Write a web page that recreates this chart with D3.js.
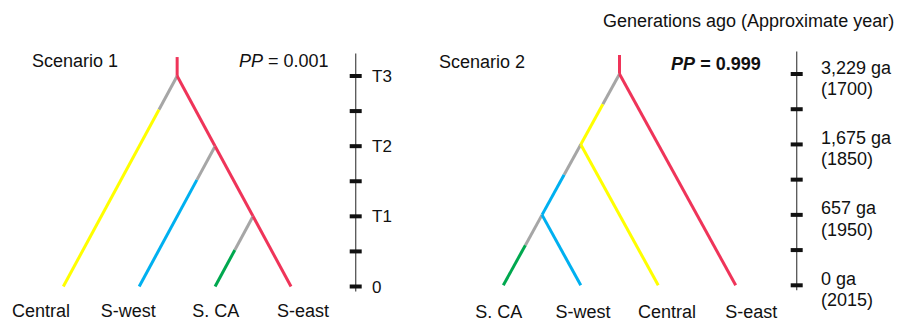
<!DOCTYPE html>
<head>
  <meta charset="utf-8">
  <script src="https://d3js.org/d3.v7.min.js"></script>
  <style>
    body { margin: 0; background: #fff; }
    text { font-family: "Liberation Sans", Arial, sans-serif; font-size: 18px; fill: #111; }
    .tname { font-size: 17px; }
    .branch { fill: none; stroke-width: 3px; stroke-linecap: butt; }
    .axis-line { stroke: #555; stroke-width: 1.3px; }
    .tick-mark { stroke: #111; stroke-width: 4px; }
  </style>
</head>
<body>
  <svg width="899" height="321"></svg>
  <script>
    // populations and their colours
    var pops = ["Central", "S-west", "S. CA", "S-east"];
    var popColours = ["#ffff00", "#00b0f0", "#00a84f", "#ef3459"];

    // scenario 1: tips left to right, and the tree as parent links (t = time level)
    var tips1 = ["Central", "S-west", "S. CA", "S-east"];
    var tree1 = [
      { id: "root", parent: "", t: 3, pop: "S-east", grey: false },
      { id: "Central", parent: "root", t: 0, pop: "Central", grey: true },
      { id: "n2", parent: "root", t: 2, pop: "S-east", grey: false },
      { id: "S-west", parent: "n2", t: 0, pop: "S-west", grey: true },
      { id: "n1", parent: "n2", t: 1, pop: "S-east", grey: false },
      { id: "S. CA", parent: "n1", t: 0, pop: "S. CA", grey: true },
      { id: "S-east", parent: "n1", t: 0, pop: "S-east", grey: false }
    ];
    var tickTimes1 = [0, 1, 2, 3];
    var tickNames1 = ["0", "T1", "T2", "T3"];

    // scenario 2
    var tips2 = ["S. CA", "S-west", "Central", "S-east"];
    var tree2 = [
      { id: "root", parent: "", t: 3, pop: "S-east", grey: false },
      { id: "n2", parent: "root", t: 2, pop: "Central", grey: true },
      { id: "S-east", parent: "root", t: 0, pop: "S-east", grey: false },
      { id: "n1", parent: "n2", t: 1, pop: "S-west", grey: true },
      { id: "Central", parent: "n2", t: 0, pop: "Central", grey: false },
      { id: "S. CA", parent: "n1", t: 0, pop: "S. CA", grey: true },
      { id: "S-west", parent: "n1", t: 0, pop: "S-west", grey: false }
    ];
    var tickTimes2 = [0, 1, 2, 3];
    var gaNames2 = ["0 ga", "657 ga", "1,675 ga", "3,229 ga"];
    var yearNames2 = ["(2015)", "(1950)", "(1850)", "(1700)"];

    var minorTicks = [0, 0.5, 1, 1.5, 2, 2.5, 3];
    var greySpan = [0.48, 0.43]; // length of grey lead-in, in time levels

    var svg = d3.select("svg");
    var colour = d3.scaleOrdinal().domain(pops).range(popColours);

    function drawTree(g, rows, tips, xTip, y, grey) {
      var root = d3.stratify()
        .id(function (d) { return d.id; })
        .parentId(function (d) { return d.parent || null; })(rows);

      // x of a node: midway between its outermost tips
      root.eachAfter(function (n) {
        if (!n.children) { n.x = xTip(n.id); return; }
        var xs = n.leaves().map(function (l) { return xTip(l.id); });
        n.x = (d3.min(xs) + d3.max(xs)) / 2;
      });

      var line = d3.line().x(function (p) { return p[0]; }).y(function (p) { return p[1]; });

      // root stem
      g.append("path").attr("class", "branch")
        .attr("stroke", colour(root.data.pop))
        .attr("d", line([[root.x, y(3.27)], [root.x, y(root.data.t)]]));

      root.links().forEach(function (l) {
        var p = l.source, c = l.target;
        var x0 = p.x, y0 = y(p.data.t), x1 = c.x, y1 = y(c.data.t);
        if (c.data.grey) {
          var f = grey / (p.data.t - c.data.t);
          var xm = x0 + (x1 - x0) * f, ym = y0 + (y1 - y0) * f;
          g.append("path").attr("class", "branch").attr("stroke", "#a6a6a6")
            .attr("d", line([[x0, y0], [xm, ym]]));
          g.append("path").attr("class", "branch").attr("stroke", colour(c.data.pop))
            .attr("d", line([[xm, ym], [x1, y1]]));
        } else {
          g.append("path").attr("class", "branch").attr("stroke", colour(c.data.pop))
            .attr("d", line([[x0, y0], [x1, y1]]));
        }
      });
    }

    function drawAxis(g, x, y) {
      g.append("line").attr("class", "axis-line")
        .attr("x1", x).attr("x2", x)
        .attr("y1", y(3.32)).attr("y2", y(-0.07));
      g.selectAll(".tick-mark").data(minorTicks).enter().append("line")
        .attr("class", "tick-mark")
        .attr("x1", x - 6).attr("x2", x + 6)
        .attr("y1", function (d) { return y(d); })
        .attr("y2", function (d) { return y(d); });
    }

    // ---- scenario 1
    var y1 = d3.scaleLinear().domain([0, 3]).range([286.5, 76]);
    var xTip1 = d3.scalePoint().domain(tips1).range([63.3, 291]);
    var xLab1 = d3.scalePoint().domain(tips1).range([41, 303]);
    var g1 = svg.append("g");
    drawTree(g1, tree1, tips1, xTip1, y1, greySpan[0]);
    drawAxis(g1, 355.7, y1);

    g1.selectAll(".tname").data(tickTimes1).enter().append("text")
      .attr("class", "tname")
      .attr("x", 372).attr("y", function (d) { return y1(d); })
      .attr("dy", "0.36em")
      .text(function (d, i) { return tickNames1[i]; });

    g1.selectAll(".tip").data(tips1).enter().append("text")
      .attr("x", function (d) { return xLab1(d); }).attr("y", 316.5)
      .attr("text-anchor", "middle")
      .text(function (d) { return d; });

    g1.append("text").attr("x", 32).attr("y", 66.5).text("Scenario 1");
    var pp1 = g1.append("text").attr("x", 328.5).attr("y", 66.5).attr("text-anchor", "end");
    pp1.append("tspan").attr("font-style", "italic").text("PP");
    pp1.append("tspan").text(" = 0.001");

    // ---- scenario 2
    var y2 = d3.scaleLinear().domain([0, 3]).range([285.3, 74]);
    var xTip2 = d3.scalePoint().domain(tips2).range([503.3, 735.7]);
    var xLab2 = d3.scalePoint().domain(tips2).range([498.7, 751.3]);
    var g2 = svg.append("g");
    drawTree(g2, tree2, tips2, xTip2, y2, greySpan[1]);
    drawAxis(g2, 796.7, y2);

    var labs2 = g2.selectAll(".ga").data(tickTimes2).enter().append("text")
      .attr("x", 821).attr("y", function (d) { return y2(d) - 0.5; });
    labs2.append("tspan").text(function (d, i) { return gaNames2[i]; });
    labs2.append("tspan").attr("x", 821).attr("dy", 21.5)
      .text(function (d, i) { return yearNames2[i]; });

    g2.selectAll(".tip").data(tips2).enter().append("text")
      .attr("x", function (d) { return xLab2(d); }).attr("y", 318)
      .attr("text-anchor", "middle")
      .text(function (d) { return d; });

    g2.append("text").attr("x", 439).attr("y", 68.3).text("Scenario 2");
    var pp2 = g2.append("text").attr("x", 760.7).attr("y", 70)
      .attr("text-anchor", "end").attr("font-weight", "bold");
    pp2.append("tspan").attr("font-style", "italic").text("PP");
    pp2.append("tspan").text(" = 0.999");

    svg.append("text").attr("x", 603).attr("y", 26.7)
      .text("Generations ago (Approximate year)");
  </script>
</body>
